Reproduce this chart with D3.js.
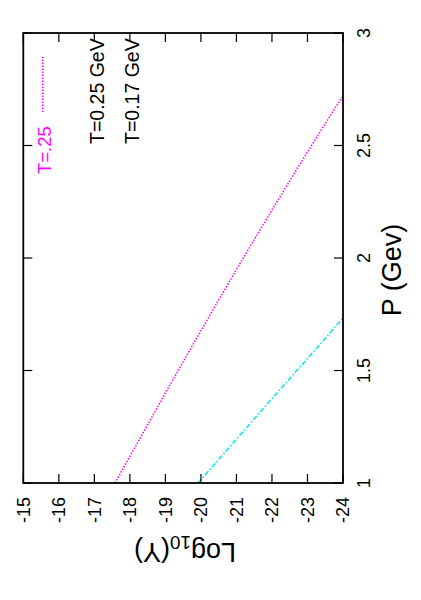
<!DOCTYPE html>
<html>
<head>
<meta charset="utf-8">
<script src="https://cdn.jsdelivr.net/npm/d3@7"></script>
<style>
  body { margin: 0; background: #fff; }
  text { font-family: "Liberation Sans", Arial, Helvetica, sans-serif; }
</style>
</head>
<body>
<div id="chart"></div>
<script>
// momentum P (GeV) and log10(Y) for the two curves
const pHot  = [1.0, 1.2, 1.4, 1.6, 1.8, 2.0, 2.2, 2.4, 2.6, 2.8];
const logHot = [-17.58, -18.29, -19.0, -19.72, -20.45, -21.19, -21.95, -22.72, -23.51, -24.32];
const pCold = [1.0, 1.2, 1.4, 1.6, 1.8];
const logCold = [-19.92, -21.03, -22.14, -23.26, -24.37];

const logTicks = [-15, -16, -17, -18, -19, -20, -21, -22, -23, -24];
const pTicks = [1, 1.5, 2, 2.5, 3];
const pTickLabels = ["1", "1.5", "2", "2.5", "3"];
const labels = ["T=0.25 GeV", "T=0.17 GeV"];
const keyLabel = "T=.25";

const W = 421, H = 600;
const box = {left: 23.3, right: 343, top: 33, bottom: 483};

// the whole gnuplot page is turned by 90 degrees: log10(Y) runs along x, P along y
const x = d3.scaleLinear().domain([-15, -24]).range([box.left, box.right]);
const y = d3.scaleLinear().domain([1, 3]).range([box.bottom, box.top]);

const svg = d3.select("#chart").append("svg")
    .attr("width", W).attr("height", H);

svg.append("clipPath").attr("id", "clip")
   .append("rect")
   .attr("x", box.left).attr("y", box.top)
   .attr("width", box.right - box.left).attr("height", box.bottom - box.top);

const line = d3.line()
    .x(d => x(d[1]))
    .y(d => y(d[0]));

svg.append("path")
   .datum(d3.zip(pHot, logHot))
   .attr("clip-path", "url(#clip)")
   .attr("fill", "none")
   .attr("stroke", "#ff00ff")
   .attr("stroke-width", 1.5)
   .attr("stroke-dasharray", "1.5,1.5")
   .attr("d", line);

svg.append("path")
   .datum(d3.zip(pCold, logCold))
   .attr("clip-path", "url(#clip)")
   .attr("fill", "none")
   .attr("stroke", "#00e5ee")
   .attr("stroke-width", 1.5)
   .attr("stroke-dasharray", "5,2,1.5,2")
   .attr("d", line);

// ticks on all four sides, pointing inward
const tickLen = 9;
const ticks = svg.append("g").attr("stroke", "#000").attr("stroke-width", 1.2);
logTicks.forEach(v => {
  ticks.append("line").attr("x1", x(v)).attr("x2", x(v))
       .attr("y1", box.bottom).attr("y2", box.bottom - tickLen);
  ticks.append("line").attr("x1", x(v)).attr("x2", x(v))
       .attr("y1", box.top).attr("y2", box.top + tickLen);
});
pTicks.forEach(v => {
  ticks.append("line").attr("x1", box.left).attr("x2", box.left + tickLen)
       .attr("y1", y(v)).attr("y2", y(v));
  ticks.append("line").attr("x1", box.right).attr("x2", box.right - tickLen)
       .attr("y1", y(v)).attr("y2", y(v));
});

svg.append("rect")
   .attr("x", box.left).attr("y", box.top)
   .attr("width", box.right - box.left).attr("height", box.bottom - box.top)
   .attr("fill", "none").attr("stroke", "#000").attr("stroke-width", 1.8);

// tick labels
svg.append("g").selectAll("text")
   .data(logTicks).enter().append("text")
   .attr("transform", d => "translate(" + x(d) + "," + (box.bottom + 14) + ") rotate(-90)")
   .attr("text-anchor", "end")
   .attr("dy", "0.35em")
   .attr("font-size", 18)
   .text(d => d);

svg.append("g").selectAll("text")
   .data(pTicks).enter().append("text")
   .attr("transform", d => "translate(370," + y(d) + ") rotate(-90)")
   .attr("text-anchor", "middle")
   .attr("font-size", 18)
   .text((d, i) => pTickLabels[i]);

// axis titles
svg.append("text")
   .attr("transform", "translate(401,270) rotate(-90)")
   .attr("text-anchor", "middle")
   .attr("font-size", 27)
   .text("P (Gev)");

const yt = svg.append("text")
   .attr("transform", "translate(185,543) rotate(180)")
   .attr("text-anchor", "middle")
   .attr("font-size", 27);
yt.append("tspan").text("Log");
yt.append("tspan").attr("font-size", 19).attr("dy", 7).text("10");
yt.append("tspan").attr("dy", -7).text("(Y)");

// curve labels
svg.append("g").selectAll("text")
   .data(labels).enter().append("text")
   .attr("transform", (d, i) => "translate(" + [104, 139][i] + ",144) rotate(-90)")
   .attr("font-size", 19.5)
   .text(d => d);

// key
svg.append("text")
   .attr("transform", "translate(51,174) rotate(-90)")
   .attr("fill", "#ff00ff")
   .attr("font-size", 18.5)
   .text(keyLabel);
svg.append("line")
   .attr("x1", 42.7).attr("x2", 42.7)
   .attr("y1", 112).attr("y2", 57)
   .attr("stroke", "#ff00ff").attr("stroke-width", 1.5)
   .attr("stroke-dasharray", "1.5,1.5");
</script>
</body>
</html>
